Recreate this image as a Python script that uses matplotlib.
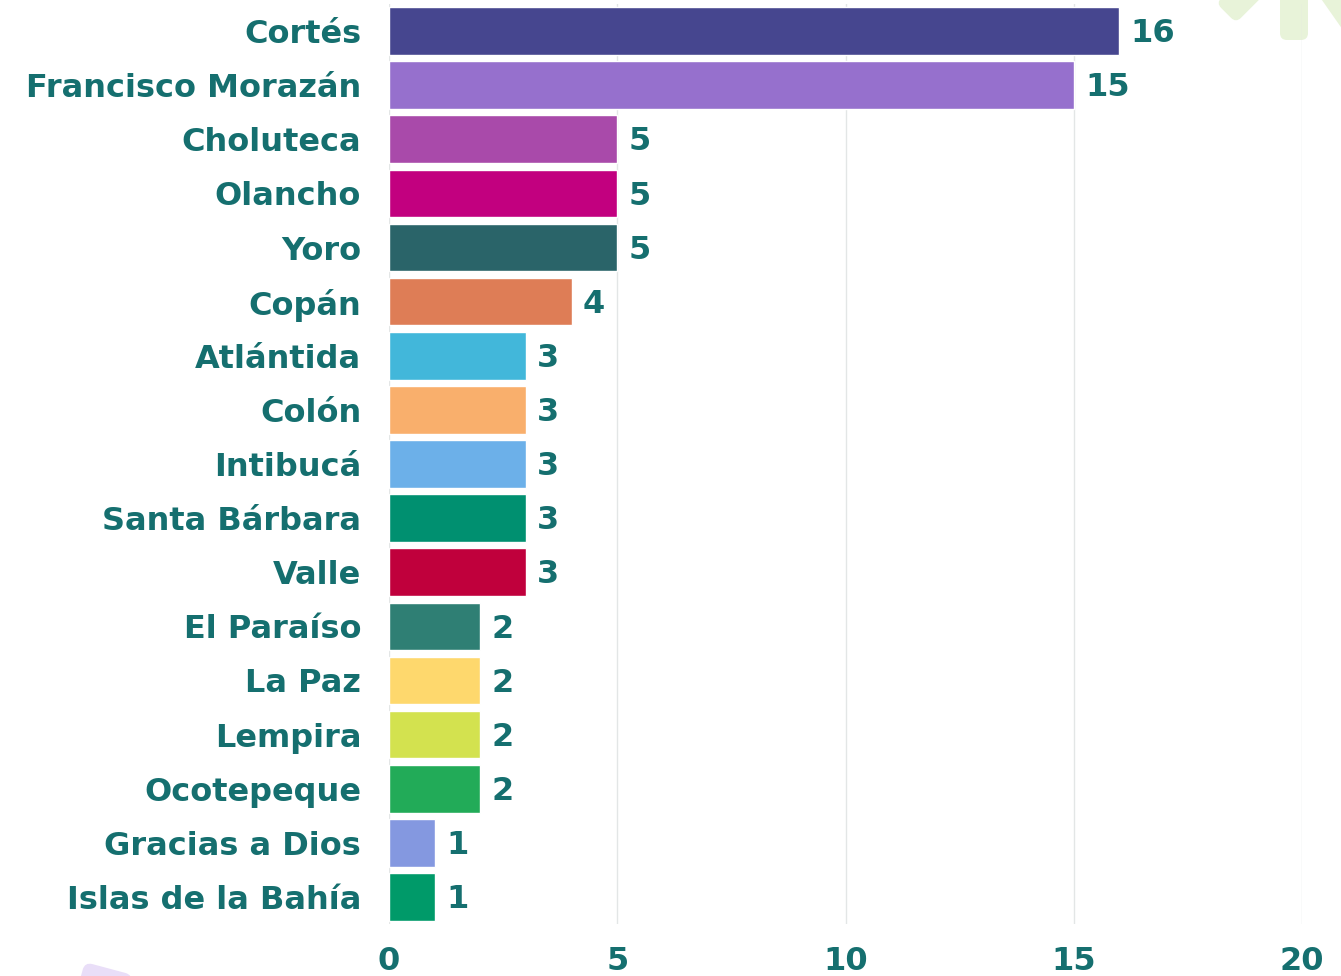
import matplotlib.pyplot as plt
from matplotlib.patches import FancyBboxPatch
from matplotlib.transforms import Affine2D

# datos
departamentos = ["Cortés", "Francisco Morazán", "Choluteca", "Olancho", "Yoro", "Copán",
                 "Atlántida", "Colón", "Intibucá", "Santa Bárbara", "Valle", "El Paraíso",
                 "La Paz", "Lempira", "Ocotepeque", "Gracias a Dios", "Islas de la Bahía"]
valores = [16, 15, 5, 5, 5, 4, 3, 3, 3, 3, 3, 2, 2, 2, 2, 1, 1]
colores = ["#46468F", "#9670CD", "#A94AAA", "#C2007F", "#2A6469", "#DE7D56",
           "#42B7DA", "#F9AF6C", "#6CB0E9", "#009070", "#C0003C", "#2F7F74",
           "#FED86D", "#D3E24F", "#22AB58", "#8498E0", "#009A69"]
ticks_x = [0, 5, 10, 15, 20]

texto = "#156F6F"
fuente = "DejaVu Sans"

fig = plt.figure(figsize=(13.41, 9.76), dpi=100)

# adornos de fondo
deco = fig.add_axes([0, 0, 1, 1], zorder=0)
deco.set_xlim(0, 1341)
deco.set_ylim(976, 0)
deco.axis('off')
for (x, y, w, h, ang) in [(1234, -40, 28, 62, 45), (1280, -30, 28, 70, 0), (1325, -30, 28, 60, -35)]:
    p = FancyBboxPatch((x, y), w, h, boxstyle="round,pad=0,rounding_size=7",
                       facecolor="#E8F3D9", edgecolor="none")
    p.set_transform(Affine2D().rotate_deg_around(x + w / 2, y + h / 2, ang) + deco.transData)
    deco.add_patch(p)
p = FancyBboxPatch((80, 968), 50, 30, boxstyle="round,pad=0,rounding_size=8",
                   facecolor="#E9DEF8", edgecolor="none")
p.set_transform(Affine2D().rotate_deg_around(105, 983, 15) + deco.transData)
deco.add_patch(p)

ax = fig.add_axes([389 / 1341, 52 / 976, (1302 - 389) / 1341, (972 - 52) / 976], zorder=1)
ax.patch.set_alpha(0)

y = list(range(len(departamentos)))
ax.barh(y, valores, height=0.88, color=colores, edgecolor="white", linewidth=1, zorder=2)
for yi, v in zip(y, valores):
    ax.text(v + 0.25, yi + 0.05, str(v), va='center', ha='left', fontsize=23,
            fontweight='bold', color=texto, family=fuente)

ax.set_ylim(len(departamentos) - 0.5, -0.5)
ax.set_xlim(0, 20)
ax.set_yticks(y)
ax.set_yticklabels(departamentos, fontsize=23, fontweight='bold', color=texto, family=fuente)
ax.set_xticks(ticks_x)
ax.set_xticklabels([str(t) for t in ticks_x], fontsize=23, fontweight='bold', color=texto, family=fuente)
ax.tick_params(axis='both', length=0)
ax.tick_params(axis='y', pad=20)
ax.tick_params(axis='x', pad=16)
ax.grid(axis='x', color="#E3E6E6", linewidth=1, zorder=0)
for s in ax.spines.values():
    s.set_visible(False)

plt.savefig("out.png", dpi=100)
plt.close()
